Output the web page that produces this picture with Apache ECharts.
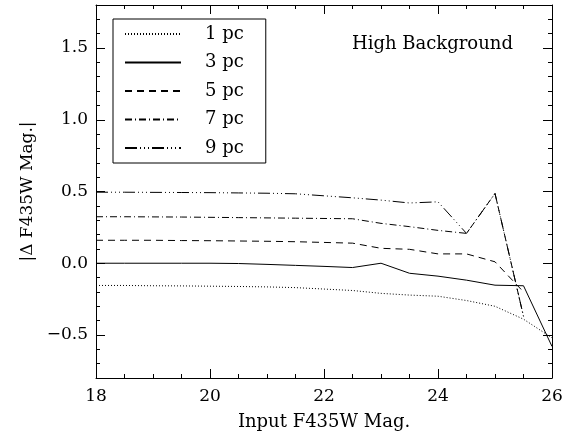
<!DOCTYPE html>
<html>
<head>
<meta charset="utf-8">
<script src="https://cdn.jsdelivr.net/npm/echarts@6/dist/echarts.min.js"></script>
<style>html,body{margin:0;padding:0;background:#fff;}#c{width:582px;height:436px;}</style>
</head>
<body>
<div id="c"></div>
<script>
var xMag = [18, 18.5, 19, 19.5, 20, 20.5, 21, 21.5, 22, 22.5, 23, 23.5, 24, 24.5, 25, 25.5, 26];
var pc1 = [-0.155, -0.155, -0.157, -0.158, -0.16, -0.162, -0.165, -0.17, -0.18, -0.19, -0.21, -0.222, -0.23, -0.26, -0.30, -0.39, -0.52];
var pc3 = [0, 0, 0, 0, 0, -0.002, -0.008, -0.015, -0.022, -0.03, 0.0, -0.07, -0.09, -0.118, -0.153, -0.157, -0.58];
var pc5 = [0.16, 0.16, 0.16, 0.158, 0.157, 0.155, 0.153, 0.15, 0.145, 0.14, 0.104, 0.097, 0.065, 0.065, 0.01, -0.2];
var pc7 = [0.324, 0.324, 0.323, 0.322, 0.32, 0.318, 0.316, 0.314, 0.312, 0.31, 0.278, 0.255, 0.229, 0.208, 0.486, -0.37];
var pc9 = [0.495, 0.495, 0.494, 0.493, 0.492, 0.49, 0.488, 0.484, 0.47, 0.456, 0.44, 0.42, 0.428, 0.208, 0.486, -0.37];
var seriesNames = ['1 pc', '3 pc', '5 pc', '7 pc', '9 pc'];
var yMajor = [-0.5, 0, 0.5, 1.0, 1.5];
var xTicks = [18, 20, 22, 24, 26];

var FONT = 'DejaVu Serif';
function pairs(vals) { return vals.map(function (v, i) { return [xMag[i], v]; }); }
var dashes = [[1, 2], 'solid', [7, 5], [7, 3, 1, 3], [12, 3, 1, 3, 1, 3, 1, 3]];
var allVals = [pc1, pc3, pc5, pc7, pc9];

var series = seriesNames.map(function (n, i) {
  return {
    name: n, type: 'line', data: pairs(allVals[i]), symbol: 'none', showSymbol: false,
    xAxisIndex: 0, yAxisIndex: 0,
    lineStyle: { color: '#000', width: 1, type: dashes[i] },
    itemStyle: { color: '#000' }
  };
});

function yAx(pos, major, labels) {
  var o = {
    type: 'value', position: pos, min: -0.8, max: 1.8, offset: 0,
    splitLine: { show: false },
    axisLine: { show: major, onZero: false, lineStyle: { color: '#000', width: 1 } }
  };
  if (major) {
    o.axisTick = { show: true, inside: true, length: 9, customValues: yMajor, lineStyle: { color: '#000' } };
    o.axisLabel = {
      show: labels, customValues: yMajor, margin: 8, color: '#000', fontFamily: FONT, fontSize: 17,
      formatter: function (v) { var s = Math.abs(v).toFixed(1); return v < 0 ? '\u2212' + s : s; }
    };
  } else {
    o.interval = 0.1;
    o.axisTick = { show: true, inside: true, length: 4, lineStyle: { color: '#000' } };
    o.axisLabel = { show: false };
  }
  return o;
}
var yAxes = [yAx('left', true, true), yAx('left', false, false), yAx('right', true, false), yAx('right', false, false)];
yAxes[0].name = '|\u0394 F435W Mag.|';
yAxes[0].nameLocation = 'middle';
yAxes[0].nameGap = 58;
yAxes[0].nameTextStyle = { color: '#000', fontFamily: FONT, fontSize: 17 };

function xAx(pos, labels) {
  return {
    type: 'value', position: pos, min: xTicks[0], max: xTicks[xTicks.length - 1], interval: 2,
    splitLine: { show: false },
    axisLine: { show: true, onZero: false, lineStyle: { color: '#000', width: 1 } },
    axisTick: { show: true, inside: true, length: 9, lineStyle: { color: '#000' } },
    minorTick: { show: true, splitNumber: 4, length: 4, lineStyle: { color: '#000' } },
    axisLabel: { show: labels, margin: 10, color: '#000', fontFamily: FONT, fontSize: 17 }
  };
}
var xAxes = [xAx('bottom', true), xAx('top', false)];
xAxes[0].name = 'Input F435W Mag.';
xAxes[0].nameLocation = 'middle';
xAxes[0].nameGap = 35;
xAxes[0].nameTextStyle = { color: '#000', fontFamily: FONT, fontSize: 18 };

var chart = echarts.init(document.getElementById('c'));
chart.setOption({
  animation: false,
  backgroundColor: '#fff',
  grid: { left: 96, right: 30, top: 5, bottom: 57, containLabel: false },
  title: { text: 'High Background', left: 352, top: 35, padding: 0,
    textStyle: { color: '#000', fontFamily: FONT, fontSize: 18, fontWeight: 'normal' } },
  legend: {
    data: seriesNames, orient: 'vertical', left: 113, top: 19,
    padding: [6, 22, 6, 11], borderColor: '#000', borderWidth: 1, backgroundColor: '#fff',
    itemWidth: 56, itemHeight: 14, itemGap: 10.5, selectedMode: false,
    itemStyle: { opacity: 0 },
    lineStyle: { opacity: 1 },
    textStyle: { color: '#000', fontFamily: FONT, fontSize: 18, lineHeight: 14, height: 14, padding: [0, 0, 0, 19] }
  },
  xAxis: xAxes,
  yAxis: yAxes,
  series: series
});
</script>
</body>
</html>
